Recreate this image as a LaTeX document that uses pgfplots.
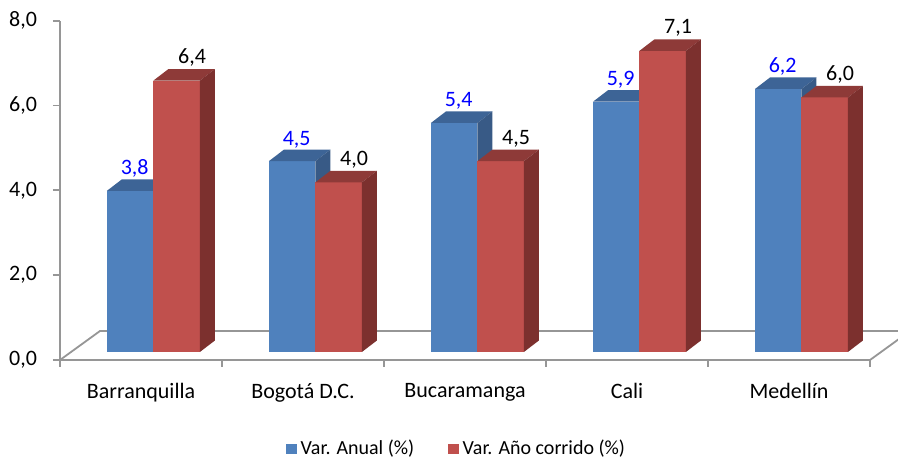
\documentclass[border=0pt]{standalone}
\usepackage{pgfplots}
\pgfplotsset{compat=1.18}
\usepackage{pgfplotstable}
\usepackage{fontspec}
\setmainfont{Carlito}

\definecolor{bluefront}{HTML}{4F81BD}
\definecolor{bluetop}{HTML}{3D6496}
\definecolor{blueside}{HTML}{385A86}
\definecolor{redfront}{HTML}{C0504D}
\definecolor{redtop}{HTML}{8E3A38}
\definecolor{redside}{HTML}{7C302E}
\definecolor{axisgray}{HTML}{969696}

\pgfplotstableread{
c v1 v2
0 3.8 6.4
1 4.5 4.0
2 5.4 4.5
3 5.9 7.1
4 6.2 6.0
}\datatable

\newcommand\barbase{0.19}
\newcommand\bardx{0.0926}
\newcommand\bardy{0.271}
\newcommand\barw{0.287}
\newcommand\chartfont{\fontsize{11}{13.2}\selectfont}

\newcommand\drawbar[5]{%
 \pgfmathsetmacro\xl{#1}%
 \pgfmathsetmacro\xr{#1+\barw}%
 \pgfmathsetmacro\xlb{#1+\bardx}%
 \pgfmathsetmacro\xrb{#1+\barw+\bardx}%
 \pgfmathsetmacro\yb{\barbase}%
 \pgfmathsetmacro\ybb{\barbase+\bardy}%
 \pgfmathsetmacro\yt{#2+\barbase}%
 \pgfmathsetmacro\ytb{#2+\barbase+\bardy}%
 \edef\temp{%
  \noexpand\addplot[forget plot, draw=none, fill=#3] coordinates {(\xl,\yb) (\xr,\yb) (\xr,\yt) (\xl,\yt)};
  \noexpand\addplot[forget plot, draw=none, fill=#4] coordinates {(\xl,\yt) (\xr,\yt) (\xrb,\ytb) (\xlb,\ytb)};
  \noexpand\addplot[forget plot, draw=none, fill=#5] coordinates {(\xr,\yb) (\xrb,\ybb) (\xrb,\ytb) (\xr,\yt)};
 }\temp
}

\begin{document}
\begin{tikzpicture}
\begin{axis}[
  at={(0,0)}, anchor=south west,
  scale only axis, width=405pt, height=169.65pt,
  xmin=-0.5, xmax=4.5, ymin=0, ymax=8,
  clip=false,
  axis x line*=bottom, axis y line*=left,
  axis line style={draw=axisgray, line width=0.9pt, -},
  tick style={draw=axisgray, line width=0.9pt},
  tick align=outside, major tick length=3.5pt,
  xtick={-0.5,0.5,...,4.5}, xticklabels={},
  extra x ticks={0,1,2,3,4},
  extra x tick labels={Barranquilla, Bogotá D.C., Bucaramanga, Cali, Medellín},
  extra x tick style={major tick length=0pt, xticklabel style={yshift=-8pt}},
  ytick={0,2,...,8},
  yticklabel style={xshift=-4.5pt},
  /pgf/number format/use comma,
  /pgf/number format/fixed,
  /pgf/number format/fixed zerofill,
  /pgf/number format/precision=1,
  /pgf/number format/assume math mode=true,
  tick label style={font=\chartfont, text=black},
  legend style={at={(0.491,-0.262)}, anchor=center, draw=none, fill=none,
    legend columns=2, font=\fontsize{10}{12}\selectfont,
    /tikz/every even column/.append style={column sep=15pt}},
  legend image code/.code={\fill[#1] (0pt,-2.6pt) rectangle (5.2pt,2.6pt);},
]
\addlegendimage{fill=bluefront, draw=none}
\addlegendentry{Var. Anual (\%)}
\addlegendimage{fill=redfront, draw=none}
\addlegendentry{Var. Año corrido (\%)}

% floor
\addplot[forget plot, draw=axisgray, line width=0.9pt, fill=white]
  coordinates {(-0.5,0) (4.5,0) (4.747,0.684) (-0.253,0.684)} -- cycle;

\pgfplotsforeachungrouped \i in {0,1,2,3,4}{%
  \pgfplotstablegetelem{\i}{v1}\of\datatable \let\va\pgfplotsretval
  \pgfplotstablegetelem{\i}{v2}\of\datatable \let\vb\pgfplotsretval
  \drawbar{\i-0.21}{\va}{bluefront}{bluetop}{blueside}%
  \drawbar{\i+0.077}{\vb}{redfront}{redtop}{redside}%
}

\addplot[forget plot, draw=none, point meta=explicit,
  nodes near coords={\pgfmathprintnumber[fixed,fixed zerofill,precision=1,use comma,assume math mode=true]{\pgfplotspointmeta}},
  nodes near coords style={text=blue, anchor=base, yshift=2.25pt, inner sep=0pt, font=\chartfont}]
  table[x expr=\thisrow{c}-0.039, y expr=\thisrow{v1}+0.461, meta=v1]{\datatable};
\addplot[forget plot, draw=none, point meta=explicit,
  nodes near coords={\pgfmathprintnumber[fixed,fixed zerofill,precision=1,use comma,assume math mode=true]{\pgfplotspointmeta}},
  nodes near coords style={text=black, anchor=base, yshift=2.75pt, inner sep=0pt, font=\chartfont}]
  table[x expr=\thisrow{c}+0.3155, y expr=\thisrow{v2}+0.461, meta=v2]{\datatable};
\end{axis}
\pgfresetboundingbox
\path[use as bounding box] (-30pt,-49pt) rectangle (419pt,180pt);
\end{tikzpicture}
\end{document}
